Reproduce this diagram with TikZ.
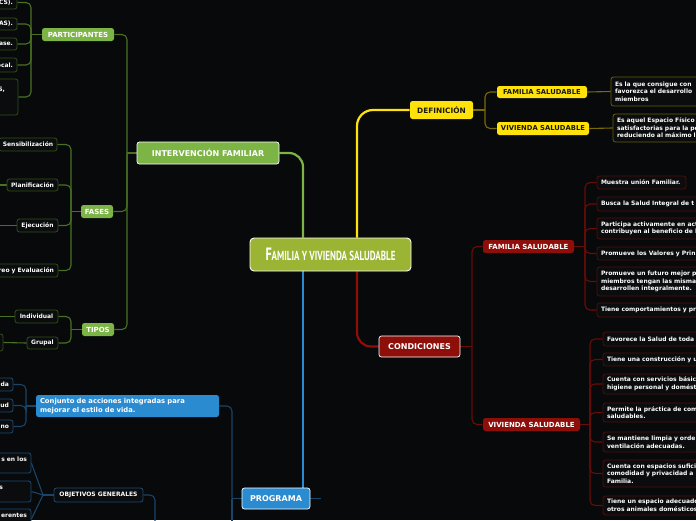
\documentclass[tikz,border=0pt]{standalone}
\usepackage{fontspec}
\setmainfont{DejaVu Sans}
\newfontfamily\titlefont{PT Sans}
\usetikzlibrary{calc}
\pgfdeclarelayer{bglayer}
\pgfdeclarelayer{lines}
\pgfsetlayers{bglayer,lines,main}
\definecolor{bg}{HTML}{07090B}
\definecolor{leafbg}{HTML}{0A0C0E}
\definecolor{cfill}{HTML}{9BB434}
\definecolor{gmain}{HTML}{7DB446}
\definecolor{gline}{HTML}{4A7024}
\definecolor{gborder}{HTML}{33501A}
\definecolor{ymain}{HTML}{FFE20B}
\definecolor{yline}{HTML}{7A6A05}
\definecolor{yborder}{HTML}{6B5C08}
\definecolor{rmain}{HTML}{8E0F0A}
\definecolor{rline}{HTML}{6A0C08}
\definecolor{rborder}{HTML}{520D0A}
\definecolor{bmain}{HTML}{2A8BD0}
\definecolor{bline}{HTML}{1A4468}
\definecolor{bborder}{HTML}{1D4C73}
\definecolor{darktext}{HTML}{1A1A10}

\newcommand\Bc[7]{\node[#6,minimum width={#4-(#2)},minimum height={#5-(#3)}] (#1) at ({(#2+#4)/2},{(#3+#5)/2}) {#7};}
\newcommand\Bl[7]{\pgfmathsetmacro\tw{#4-(#2)-8}\node[#6,minimum width={#4-(#2)},minimum height={#5-(#3)},text width=\tw pt,align=left] (#1) at ({(#2+#4)/2},{(#3+#5)/2}) {#7};}
\newcommand\Br[7]{\pgfmathsetmacro\tw{#4-(#2)-8}\node[#6,minimum width={#4-(#2)},minimum height={#5-(#3)},text width=\tw pt,align=right] (#1) at ({(#2+#4)/2},{(#3+#5)/2}) {#7};}

\tikzset{
  base/.style={inner sep=0pt, text=white, font=\bfseries\fontsize{6}{7.6}\selectfont, rounded corners=2.5pt, line width=0.8pt},
  lfG/.style={base, draw=gborder, fill=leafbg},
  lfY/.style={base, draw=yborder, fill=leafbg},
  lfR/.style={base, draw=rborder, fill=leafbg},
  lfB/.style={base, draw=bborder, fill=leafbg},
  l1G/.style={base, fill=gmain, font=\bfseries\fontsize{7}{8}\selectfont},
  l1Y/.style={base, fill=ymain, text=darktext, font=\bfseries\fontsize{6.8}{8}\selectfont},
  l1R/.style={base, fill=rmain, font=\bfseries\fontsize{7}{8}\selectfont},
  l1B/.style={base, fill=bmain, font=\bfseries\fontsize{6.8}{9}\selectfont},
  mainG/.style={base, fill=gmain, draw=white!85, line width=0.7pt, font=\bfseries\fontsize{8}{9}\selectfont},
  mainY/.style={base, fill=ymain, text=darktext, font=\bfseries\fontsize{7.4}{9}\selectfont},
  mainR/.style={base, fill=rmain, draw=white!85, line width=0.7pt, font=\bfseries\fontsize{8}{9}\selectfont},
  mainB/.style={base, fill=bmain, draw=white!85, line width=0.7pt, font=\bfseries\fontsize{8}{9}\selectfont},
  central/.style={base, fill=cfill, draw=white, line width=0.9pt, rounded corners=4pt},
  mlG/.style={draw=gmain, line width=2.2pt, rounded corners=14pt},
  mlY/.style={draw=ymain, line width=2.2pt, rounded corners=16pt},
  mlR/.style={draw=rmain, line width=2.2pt, rounded corners=14pt},
  mlB/.style={draw=bmain, line width=2.2pt},
  cG/.style={draw=gline, line width=1.1pt, rounded corners=5pt},
  cY/.style={draw=yline, line width=1.1pt, rounded corners=5pt},
  cR/.style={draw=rline, line width=1.1pt, rounded corners=5pt},
  cB/.style={draw=bline, line width=1.1pt, rounded corners=5pt},
}

\begin{document}
\begin{tikzpicture}[x=1pt,y=-1pt]
\useasboundingbox (0,0) rectangle (696,520);
\begin{pgfonlayer}{bglayer}
\fill[bg] (0,0) rectangle (696,520);
\end{pgfonlayer}
\clip (0,0) rectangle (696,520);

% bus coordinates
\coordinate (x303) at (303,0);
\coordinate (x357) at (357,0);
\coordinate (gb1) at (127,0);
\coordinate (gb2) at (31,0);
\coordinate (gb3) at (71,0);
\coordinate (bb1) at (232,0);
\coordinate (bb2) at (26,0);
\coordinate (rb1) at (472,0);
\coordinate (rb2) at (585,0);
\coordinate (rb3) at (590,0);
\coordinate (yb1) at (485,0);
\coordinate (f2x) at (-5,185);
\coordinate (f3x) at (-5,225.5);
\coordinate (t1x) at (-5,316.5);
\coordinate (pstub) at (321,498.5);
\coordinate (bbdown) at (232,530);
\coordinate (objdown) at (155,530);
\coordinate (ofan) at (43,495);

% ---------- nodes ----------
\Bc{c}{250}{238}{411}{271}{central}{\titlefont\bfseries\scalebox{0.72}[1.05]{\fontsize{17}{17}\selectfont F\fontsize{12.5}{12.5}\selectfont AMILIA Y VIVIENDA SALUDABLE}}

% green
\Bc{int}{137}{142}{279}{164}{mainG}{INTERVENCIÓN FAMILIAR}
\Bc{part}{42}{28}{114}{41}{l1G}{PARTICIPANTES}
\Bc{fases}{81}{205}{113}{218}{l1G}{FASES}
\Bc{tipos}{82}{323}{114}{336}{l1G}{TIPOS}
\Br{p1}{-80}{-4}{17}{9}{lfG}{CS).}
\Br{p2}{-80}{18}{17}{30}{lfG}{AS).}
\Br{p3}{-80}{38}{17}{50}{lfG}{ase.}
\Br{p4}{-80}{58}{17}{72}{lfG}{ocal.}
\Br{p5}{-80}{79}{18}{115}{lfG}{S,\hspace{9pt}\mbox{}\\~\\~}
\Bc{f1}{-1}{138}{57}{151}{lfG}{Sensibilización}
\Bc{f2}{7}{179}{58}{191}{lfG}{Planificación}
\Bc{f3}{17}{219}{58}{232}{lfG}{Ejecución}
\Br{f4}{-80}{264}{58}{277}{lfG}{reo y Evaluación}
\Bc{t1}{15}{310}{58}{323}{lfG}{Individual}
\Bc{t2}{27}{337}{58}{349}{lfG}{Grupal}
\Bc{t3}{-60}{334}{3}{351}{lfG}{}

% yellow
\Bc{def}{410}{101}{473}{119}{mainY}{DEFINICIÓN}
\Bc{yfam}{497}{86}{587}{98}{l1Y}{FAMILIA SALUDABLE}
\Bc{yviv}{497}{122}{589}{135}{l1Y}{VIVIENDA SALUDABLE}
\Bl{yf1}{611}{77}{760}{106}{lfY}{Es la que consigue con\\favorezca el desarrollo\\miembros}
\Bl{yv1}{613}{114}{760}{142}{lfY}{Es aquel Espacio Físico\\satisfactorias para la pe\\reduciendo al máximo l}

% red
\Bc{cond}{379}{336}{460}{357}{mainR}{CONDICIONES}
\Bc{rfam}{483}{240}{574}{253}{l1R}{FAMILIA SALUDABLE}
\Bc{rviv}{483}{418}{580}{431}{l1R}{VIVIENDA SALUDABLE}
\Bl{rf1}{597}{176}{686}{189}{lfR}{Muestra unión Familiar.}
\Bl{rf2}{597}{197}{760}{211}{lfR}{Busca la Salud Integral de t}
\Bl{rf3}{597}{218}{760}{239}{lfR}{Participa activamente en act\\contribuyen al beneficio de l}
\Bl{rf4}{597}{247}{760}{260}{lfR}{Promueve los Valores y Prin}
\Bl{rf5}{597}{267}{760}{296}{lfR}{Promueve un futuro mejor p\\miembros tengan las misma\\desarrollen integralmente.}
\Bl{rf6}{597}{303}{760}{317}{lfR}{Tiene comportamientos y pr}
\Bl{rv1}{603}{332}{760}{346}{lfR}{Favorece la Salud de toda}
\Bl{rv2}{603}{353}{760}{366}{lfR}{Tiene una construcción y u}
\Bl{rv3}{603}{374}{760}{394}{lfR}{Cuenta con servicios básic\\higiene personal y domést}
\Bl{rv4}{603}{403}{760}{422}{lfR}{Permite la práctica de com\\saludables.}
\Bl{rv5}{603}{432}{760}{452}{lfR}{Se mantiene limpia y orde\\ventilación adecuadas.}
\Bl{rv6}{603}{460}{760}{487}{lfR}{Cuenta con espacios sufici\\comodidad y privacidad a\\Familia.}
\Bl{rv7}{603}{496}{760}{515}{lfR}{Tiene un espacio adecuado\\otros animales domésticos}

% blue
\Bc{prog}{242}{488}{310}{509}{mainB}{PROGRAMA}
\Bl{conj}{36}{395}{219}{417}{l1B}{Conjunto de acciones integradas para\\mejorar el estilo de vida.}
\Br{b1}{-80}{378}{13}{391}{lfB}{da}
\Br{b2}{-80}{399}{13}{412}{lfB}{ud}
\Br{b3}{-80}{420}{13}{433}{lfB}{no}
\Bc{obj}{54}{488}{143}{502}{lfB}{OBJETIVOS GENERALES}
\Br{o1}{-80}{453}{31}{473}{lfB}{s en los\\~}
\Br{o2}{-80}{481}{31}{502}{lfB}{s\hspace{24pt}\mbox{}\\~}
\Br{o3}{-80}{509}{31}{529}{lfB}{erentes\\~}

% ---------- connectors ----------
\begin{pgfonlayer}{lines}
% main branches
\draw[mlG] (c.north -| x303) |- (int.east);
\draw[mlY] (c.north -| x357) |- (def.west);
\draw[mlR] (c.south -| x357) |- (cond.west);
\draw[mlB] (c.south -| x303) -- (prog.north -| x303);
% green
\draw[cG] (int.west) -- (int.west -| gb1);
\draw[cG] (int.west -| gb1) |- (part.east);
\draw[cG] (int.west -| gb1) |- (fases.east);
\draw[cG] (int.west -| gb1) |- (tipos.east);
\draw[cG] (part.west) -- (part.west -| gb2);
\foreach \n in {p1,p2,p3,p4,p5} {\draw[cG] (part.west -| gb2) |- (\n.east);}
\draw[cG] (fases.west) -- (fases.west -| gb3);
\foreach \n in {f1,f2,f3,f4} {\draw[cG] (fases.west -| gb3) |- (\n.east);}
\draw[cG] (tipos.west) -- (tipos.west -| gb3);
\foreach \n in {t1,t2} {\draw[cG] (tipos.west -| gb3) |- (\n.east);}
\draw[cG] (f2.west) -- (f2x);
\draw[cG] (f3.west) -- (f3x);
\draw[cG] (t1.west) -- (t1x);
\draw[cG] (t2.west) -- (t3.east);
% yellow
\draw[cY] (def.east) -- (def.east -| yb1);
\draw[cY] (def.east -| yb1) |- (yfam.west);
\draw[cY] (def.east -| yb1) |- (yviv.west);
\draw[cY] (yfam.east) -- (yf1.west);
\draw[cY] (yviv.east) -- (yv1.west);
% red
\draw[cR] (cond.east) -- (cond.east -| rb1);
\draw[cR] (cond.east -| rb1) |- (rfam.west);
\draw[cR] (cond.east -| rb1) |- (rviv.west);
\draw[cR] (rfam.east) -- (rfam.east -| rb2);
\foreach \n in {rf1,rf2,rf3,rf4,rf5,rf6} {\draw[cR] (rfam.east -| rb2) |- (\n.west);}
\draw[cR] (rviv.east) -- (rviv.east -| rb3);
\foreach \n in {rv1,rv2,rv3,rv4,rv5,rv6,rv7} {\draw[cR] (rviv.east -| rb3) |- (\n.west);}
% blue
\draw[cB] (prog.east) -- (pstub);
\draw[cB] (prog.west) -- (prog.west -| bb1);
\draw[cB] (prog.west -| bb1) |- (conj.east);
\draw[cB] (prog.west -| bb1) -- (bbdown);
\draw[cB] (conj.west) -- (conj.west -| bb2);
\foreach \n in {b1,b2,b3} {\draw[cB] (conj.west -| bb2) |- (\n.east);}
\draw[cB] (obj.east) -| (objdown);
\draw[cB] (obj.west) -- (ofan);
\foreach \n in {o1,o2,o3} {\draw[cB, rounded corners=0pt] (ofan) -- (\n.east);}
\end{pgfonlayer}
\end{tikzpicture}
\end{document}
